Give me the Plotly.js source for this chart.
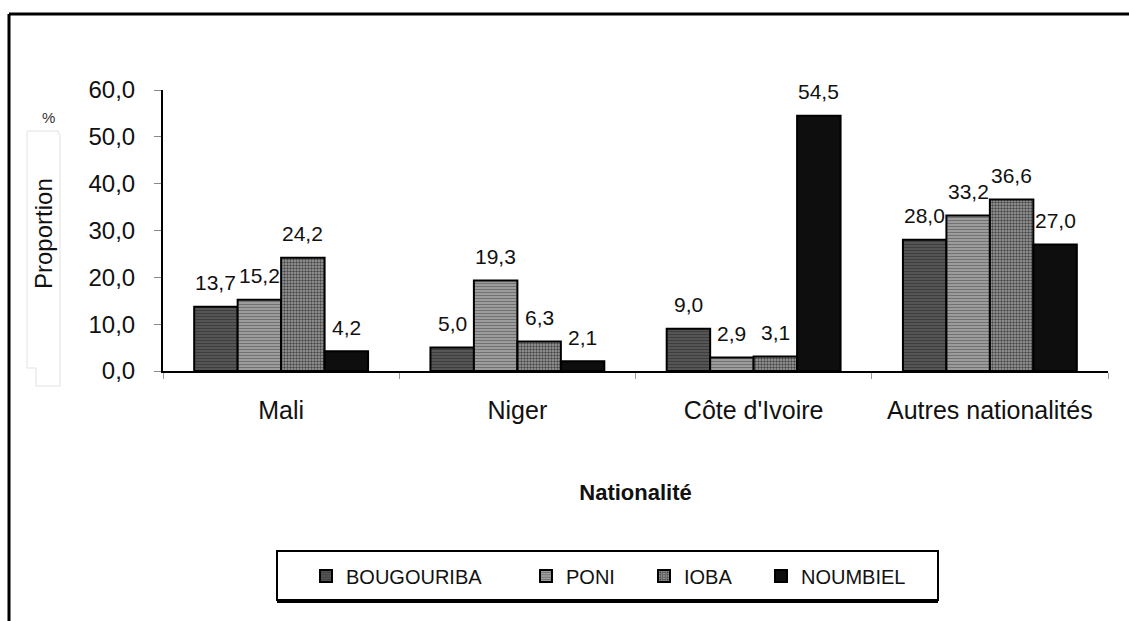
<!DOCTYPE html>
<html>
<head>
<meta charset="utf-8">
<script src="https://cdn.plot.ly/plotly-3.0.1.min.js"></script>
<style>
  html, body { margin: 0; padding: 0; background: #fff; }
  #chart { width: 1129px; height: 621px; }
</style>
</head>
<body>
<div id="chart"></div>
<script>
// ---- Data ----
const categories = ["Mali", "Niger", "Côte d'Ivoire", "Autres nationalités"];
const seriesNames = ["BOUGOURIBA", "PONI", "IOBA", "NOUMBIEL"];
const bougouriba = [13.7, 5.0, 9.0, 28.0];
const poni = [15.2, 19.3, 2.9, 33.2];
const ioba = [24.2, 6.3, 3.1, 36.6];
const noumbiel = [4.2, 2.1, 54.5, 27.0];
const yTickValues = [0, 10, 20, 30, 40, 50, 60];

const seriesValues = [bougouriba, poni, ioba, noumbiel];
const styles = [
  { color: '#4c4c4c', pattern: { shape: '-', bgcolor: '#555555', fgcolor: '#3e3e3e', size: 3, solidity: 0.35, fillmode: 'replace' } },
  { color: '#8e8e8e', pattern: { shape: '-', bgcolor: '#9c9c9c', fgcolor: '#727272', size: 3, solidity: 0.35, fillmode: 'replace' } },
  { color: '#7e7e7e', pattern: { shape: '.', bgcolor: '#a2a2a2', fgcolor: '#484848', size: 3, solidity: 0.5, fillmode: 'replace' } },
  { color: '#0e0e0e', pattern: { shape: '' } }
];

const FONT = 'Liberation Sans, Arial, sans-serif';

// plot geometry (px)
const W = 1129, H = 621;
const margin = { l: 163, r: 21, t: 90, b: 250 };
const plotW = W - margin.l - margin.r;
const plotH = H - margin.t - margin.b;
const px2x = p => (p - margin.l) / plotW;
const py2y = p => (H - margin.b - p) / plotH;

// one legend per series so each entry sits where the reference has it
const legendIds = ['legend', 'legend2', 'legend3', 'legend4'];
const legendLeftPx = [306, 526, 644, 761];

const traces = seriesNames.map((name, i) => ({
  type: 'bar',
  name: name,
  x: categories,
  y: seriesValues[i],
  legend: legendIds[i],
  marker: {
    color: styles[i].color,
    pattern: styles[i].pattern,
    line: { color: '#000', width: 2 }
  },
  hoverinfo: 'x+y+name'
}));

const bargap = 0.264;
const catW = plotW / categories.length;
const barW = catW * (1 - bargap) / seriesNames.length;

const annotations = [];
seriesValues.forEach((vals, si) => {
  const off = (si - (seriesNames.length - 1) / 2) * barW;
  vals.forEach((v, ci) => {
    annotations.push({
      x: categories[ci], y: v, xref: 'x', yref: 'y',
      text: v.toFixed(1).replace('.', ','),
      showarrow: false, xshift: off, yshift: 24, yanchor: 'middle',
      font: { family: FONT, size: 21, color: '#111' }
    });
  });
});
annotations.push({
  x: px2x(48), y: py2y(117), xref: 'paper', yref: 'paper',
  text: '%', showarrow: false, xanchor: 'center', yanchor: 'middle',
  font: { family: FONT, size: 15, color: '#333' }
});
annotations.push({
  x: px2x(43), y: py2y(234), xref: 'paper', yref: 'paper',
  text: 'Proportion', textangle: -90, showarrow: false,
  xanchor: 'center', yanchor: 'middle',
  font: { family: FONT, size: 24, color: '#111' }
});

const shapes = [
  // outer frame (top and left edges)
  { type: 'line', xref: 'paper', yref: 'paper', x0: px2x(9), x1: px2x(1135), y0: py2y(14), y1: py2y(14), line: { color: '#000', width: 3 } },
  { type: 'line', xref: 'paper', yref: 'paper', x0: px2x(9), x1: px2x(9), y0: py2y(14), y1: py2y(630), line: { color: '#000', width: 3 } },
  // faint box around the y title
  { type: 'path', xref: 'paper', yref: 'paper',
    path: `M ${px2x(27)} ${py2y(368)} L ${px2x(27)} ${py2y(131)} L ${px2x(58)} ${py2y(131)} L ${px2x(60)} ${py2y(136)} L ${px2x(60)} ${py2y(386)} L ${px2x(36)} ${py2y(386)} L ${px2x(36)} ${py2y(368)} Z`,
    line: { color: '#e2e2e2', width: 1 } },
  // legend box with heavier bottom edge
  { type: 'rect', xref: 'paper', yref: 'paper', x0: px2x(277), x1: px2x(938), y0: py2y(551), y1: py2y(600), line: { color: '#000', width: 2 } },
  { type: 'line', xref: 'paper', yref: 'paper', x0: px2x(277), x1: px2x(938), y0: py2y(601), y1: py2y(601), line: { color: '#000', width: 4 } }
];

const legendBase = {
  orientation: 'h', y: py2y(576), xanchor: 'left', yanchor: 'middle',
  bgcolor: 'rgba(0,0,0,0)', borderwidth: 0,
  font: { family: FONT, size: 20, color: '#111' },
  itemwidth: 30
};

const layout = {
  width: W, height: H,
  margin: margin,
  paper_bgcolor: '#fff', plot_bgcolor: '#fff',
  separators: ', ',
  barmode: 'group', bargap: bargap, bargroupgap: 0,
  font: { family: FONT, color: '#111' },
  showlegend: true,
  xaxis: {
    type: 'category',
    showline: true, linecolor: '#000', linewidth: 2,
    ticks: 'outside', tickson: 'boundaries', ticklen: 6, tickcolor: '#999', tickwidth: 1,
    tickfont: { family: FONT, size: 25, color: '#111' },
    ticklabelstandoff: 16,
    showgrid: false, zeroline: false,
    title: { text: '<b>Nationalité</b>', font: { family: FONT, size: 22, color: '#111' }, standoff: 62 }
  },
  yaxis: {
    range: [0, 60], tickvals: yTickValues, tickformat: '.1f',
    showline: true, linecolor: '#000', linewidth: 2,
    ticks: 'outside', ticklen: 7, tickcolor: '#888', tickwidth: 1,
    tickfont: { family: FONT, size: 24, color: '#111' },
    ticklabelstandoff: 14,
    showgrid: false, zeroline: false
  },
  annotations: annotations,
  shapes: shapes
};
legendIds.forEach((id, i) => {
  layout[id] = Object.assign({}, legendBase, { x: px2x(legendLeftPx[i]) });
});

Plotly.newPlot('chart', traces, layout, { displayModeBar: false, staticPlot: true });
</script>
</body>
</html>
